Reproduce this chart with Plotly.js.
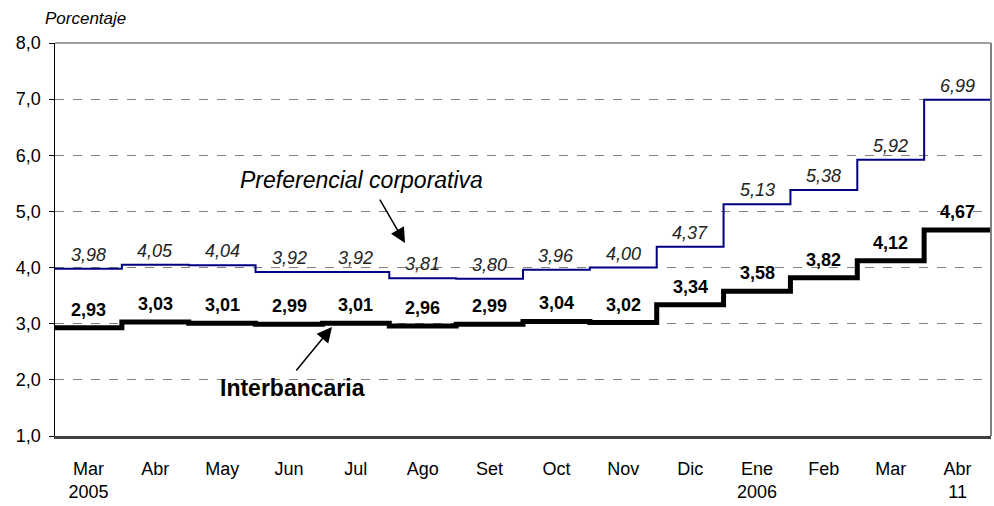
<!DOCTYPE html>
<html>
<head>
<meta charset="utf-8">
<script src="https://cdn.plot.ly/plotly-3.0.1.min.js"></script>
<style>html,body{margin:0;padding:0;background:#fff;}#chart{width:994px;height:506px;}</style>
</head>
<body>
<div id="chart"></div>
<script>
// ---- Data ----
const months = ["Mar", "Abr", "May", "Jun", "Jul", "Ago", "Set", "Oct", "Nov", "Dic", "Ene", "Feb", "Mar", "Abr"];
const yearLabels = ["2005", "", "", "", "", "", "", "", "", "", "2006", "", "", "11"];
const preferencial = [3.98, 4.05, 4.04, 3.92, 3.92, 3.81, 3.80, 3.96, 4.00, 4.37, 5.13, 5.38, 5.92, 6.99];
const interbancaria = [2.93, 3.03, 3.01, 2.99, 3.01, 2.96, 2.99, 3.04, 3.02, 3.34, 3.58, 3.82, 4.12, 4.67];

const FONT = "Liberation Sans, Arial, sans-serif";
const n = months.length;
const xs = [];
for (let i = 0; i <= n; i++) xs.push(i);
const stepY = arr => arr.concat([arr[arr.length - 1]]);
const fmt = v => v.toFixed(2).replace('.', ',');

const traces = [
  {
    x: xs, y: stepY(preferencial), type: 'scatter', mode: 'lines',
    line: {shape: 'hv', color: '#000080', width: 2},
    hoverinfo: 'skip', showlegend: false
  },
  {
    x: xs, y: stepY(interbancaria), type: 'scatter', mode: 'lines',
    line: {shape: 'hv', color: '#000000', width: 5},
    hoverinfo: 'skip', showlegend: false
  }
];

const annotations = [];
preferencial.forEach((v, i) => {
  annotations.push({
    x: i + 0.5, y: v, xref: 'x', yref: 'y', text: '<i>' + fmt(v) + '</i>',
    showarrow: false, yshift: 14, yanchor: 'middle',
    font: {family: FONT, size: 18, color: '#222222'}
  });
});
interbancaria.forEach((v, i) => {
  annotations.push({
    x: i + 0.5, y: v, xref: 'x', yref: 'y', text: '<b>' + fmt(v) + '</b>',
    showarrow: false, yshift: 18, yanchor: 'middle',
    font: {family: FONT, size: 18, color: '#000000'}
  });
});
annotations.push({
  x: 4.577, y: 5.56, xref: 'x', yref: 'y', text: '<i>Preferencial corporativa</i>',
  showarrow: false, font: {family: FONT, size: 23, color: '#000'}
});
annotations.push({
  x: 3.545, y: 1.855, xref: 'x', yref: 'y', text: '<b>Interbancaria</b>',
  showarrow: false, font: {family: FONT, size: 23, color: '#000'}
});
annotations.push({
  x: 5.235, y: 4.437, xref: 'x', yref: 'y', ax: 4.846, ay: 5.239, axref: 'x', ayref: 'y',
  text: '', showarrow: true, arrowhead: 2, arrowsize: 2, arrowwidth: 1.5, arrowcolor: '#000'
});
annotations.push({
  x: 4.143, y: 2.941, xref: 'x', yref: 'y', ax: 3.59, ay: 2.14, axref: 'x', ayref: 'y',
  text: '', showarrow: true, arrowhead: 2, arrowsize: 2, arrowwidth: 1.5, arrowcolor: '#000'
});
annotations.push({
  x: -0.0128, y: 1.0636, xref: 'paper', yref: 'paper', xanchor: 'left', yanchor: 'middle',
  text: '<i>Porcentaje</i>', showarrow: false, font: {family: FONT, size: 17, color: '#000'}
});

const tickvals = months.map((m, i) => i + 0.5);
const ticktext = months.map((m, i) => yearLabels[i] ? m + '<br>' + yearLabels[i] : m);

const layout = {
  width: 994, height: 506,
  margin: {l: 55, r: 3, t: 43, b: 70},
  paper_bgcolor: '#ffffff', plot_bgcolor: '#ffffff',
  separators: ',.',
  showlegend: false,
  xaxis: {
    range: [0, n], tickvals: tickvals, ticktext: ticktext,
    showgrid: false, zeroline: false, ticks: '',
    showline: true, linecolor: '#404040', linewidth: 3,
    ticklabelstandoff: 14,
    tickfont: {family: FONT, size: 18, color: '#000'}, fixedrange: true
  },
  yaxis: {
    range: [1, 8], dtick: 1, tick0: 1, tickformat: '.1f',
    showgrid: true, gridcolor: '#808080', gridwidth: 1, griddash: 'dash',
    zeroline: false, showline: true, linecolor: '#000', linewidth: 1.5,
    ticks: 'outside', ticklen: 5, tickcolor: '#000', tickwidth: 1,
    ticklabelstandoff: 4,
    tickfont: {family: FONT, size: 18, color: '#000'}, fixedrange: true
  },
  shapes: [
    {type: 'line', xref: 'paper', yref: 'paper', x0: 0, x1: 1, y0: 1, y1: 1,
     line: {color: '#808080', width: 1.5}, layer: 'above'},
    {type: 'line', xref: 'paper', yref: 'paper', x0: 1, x1: 1, y0: 0, y1: 1,
     line: {color: '#808080', width: 2}, layer: 'above'}
  ],
  annotations: annotations
};

Plotly.newPlot('chart', traces, layout, {displayModeBar: false, staticPlot: true});
</script>
</body>
</html>
